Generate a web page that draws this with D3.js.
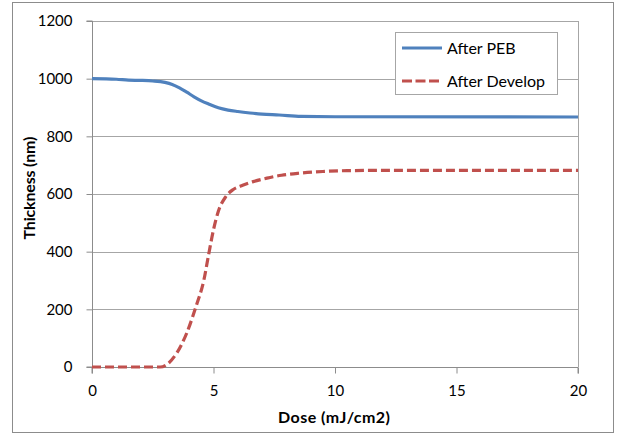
<!DOCTYPE html>
<html>
<head>
<meta charset="utf-8">
<script src="https://cdn.jsdelivr.net/npm/d3@7"></script>
<style>
  body { margin: 0; background: #fff; }
  svg { display: block; font-family: Lato, "Open Sans", sans-serif; }
</style>
</head>
<body>
<svg width="619" height="435"></svg>
<script>
// dose (mJ/cm2) and thickness (nm)
const pebDose = [0, 1, 1.5, 2, 2.5, 3, 3.3, 3.6, 3.9, 4.2, 4.5, 4.8, 5.2, 5.6, 6, 6.5, 7, 7.7, 8.6, 10, 20];
const pebThick = [1000, 998, 995, 994, 992, 987, 980, 968, 953, 937, 923, 912, 899, 891, 886, 881, 877, 874, 869, 868, 867];

const devDose = [0, 1, 2, 2.8, 3.1, 3.5, 3.9, 4.3, 4.6, 4.8, 5.0, 5.2, 5.5, 5.8, 6.2, 6.6, 7.2, 7.8, 8.5, 9.5, 10.5, 12, 15, 20];
const devThick = [0, 0, 0, 0, 10, 50, 118, 215, 300, 390, 476, 540, 590, 615, 630, 642, 655, 665, 672, 678, 681, 682, 682, 682];

const xTicks = [0, 5, 10, 15, 20];
const yTicks = [0, 200, 400, 600, 800, 1000, 1200];

const series = [
  { name: "After PEB", dose: pebDose, thick: pebThick, color: "#4f81bd", dash: null },
  { name: "After Develop", dose: devDose, thick: devThick, color: "#c0504d", dash: "9,4" }
];

const width = 619;
const height = 435;
const margin = { top: 21, right: 41, bottom: 68, left: 92 };

const svg = d3.select("svg");

// outer chart border
svg.append("rect")
  .attr("x", 12.5).attr("y", 2.5)
  .attr("width", 601).attr("height", 430)
  .attr("fill", "none").attr("stroke", "#8c8c8c");

const xScale = d3.scaleLinear().domain([0, 20]).range([margin.left, width - margin.right]);
const yScale = d3.scaleLinear().domain([0, 1200]).range([height - margin.bottom, margin.top]);

// grid lines
svg.append("g")
  .selectAll("line")
  .data(yTicks.filter((d) => d > 0))
  .enter()
  .append("line")
  .attr("x1", xScale(0)).attr("x2", xScale(20))
  .attr("y1", (d) => Math.round(yScale(d)) + 0.5)
  .attr("y2", (d) => Math.round(yScale(d)) + 0.5)
  .attr("stroke", "#a6a6a6");

// right border of plot area
svg.append("line")
  .attr("x1", Math.round(xScale(20)) + 0.5).attr("x2", Math.round(xScale(20)) + 0.5)
  .attr("y1", yScale(1200)).attr("y2", yScale(0))
  .attr("stroke", "#a6a6a6");

const xAxis = d3.axisBottom(xScale).tickValues(xTicks).tickFormat(d3.format("d")).tickSize(6).tickPadding(12);
svg.append("g")
  .attr("transform", `translate(0, ${Math.round(yScale(0)) + 0.5})`)
  .call(xAxis)
  .call((g) => g.select(".domain").attr("stroke", "#8c8c8c").attr("d", `M${xScale(0)},6V0H${xScale(20)}V6`))
  .call((g) => g.selectAll(".tick line").attr("stroke", "#8c8c8c"))
  .call((g) => g.selectAll(".tick text").attr("font-size", 15).attr("fill", "#000").attr("font-family", "Lato, sans-serif"));

const yAxis = d3.axisLeft(yScale).tickValues(yTicks).tickFormat(d3.format("d")).tickSize(6).tickPadding(14);
svg.append("g")
  .attr("transform", `translate(${Math.round(xScale(0)) + 0.5}, 0)`)
  .call(yAxis)
  .call((g) => g.select(".domain").attr("stroke", "#8c8c8c").attr("d", `M-6,${yScale(1200)}H0V${yScale(0)}H-6`))
  .call((g) => g.selectAll(".tick line").attr("stroke", "#8c8c8c"))
  .call((g) => g.selectAll(".tick text").attr("font-size", 15).attr("fill", "#000").attr("font-family", "Lato, sans-serif"));

// lines
const line = d3.line()
  .x((d) => xScale(d[0]))
  .y((d) => yScale(d[1]))
  .curve(d3.curveMonotoneX);

series.forEach((s) => {
  svg.append("path")
    .datum(s.dose.map((d, i) => [d, s.thick[i]]))
    .attr("d", line)
    .attr("fill", "none")
    .attr("stroke", s.color)
    .attr("stroke-width", 3.2)
    .attr("stroke-dasharray", s.dash);
});

// axis titles
svg.append("text")
  .attr("x", 334)
  .attr("y", 423)
  .attr("text-anchor", "middle")
  .attr("font-size", 16)
  .attr("font-weight", "bold")
  .attr("textLength", 112)
  .text("Dose (mJ/cm2)");

svg.append("text")
  .attr("transform", "translate(35, 188) rotate(-90)")
  .attr("text-anchor", "middle")
  .attr("font-size", 16)
  .attr("font-weight", "bold")
  .attr("textLength", 103)
  .text("Thickness (nm)");

// legend
const legend = svg.append("g");
legend.append("rect")
  .attr("x", 395.5).attr("y", 32.5)
  .attr("width", 162).attr("height", 62)
  .attr("fill", "#fff").attr("stroke", "#a6a6a6");

series.forEach((s, i) => {
  const y = 48 + i * 33;
  legend.append("line")
    .attr("x1", 402).attr("x2", 442)
    .attr("y1", y).attr("y2", y)
    .attr("stroke", s.color)
    .attr("stroke-width", 3.2)
    .attr("stroke-dasharray", s.dash ? "10,3.5" : null);
  legend.append("text")
    .attr("x", 447).attr("y", y + 6)
    .attr("font-size", 16)
    .text(s.name);
});
</script>
</body>
</html>
